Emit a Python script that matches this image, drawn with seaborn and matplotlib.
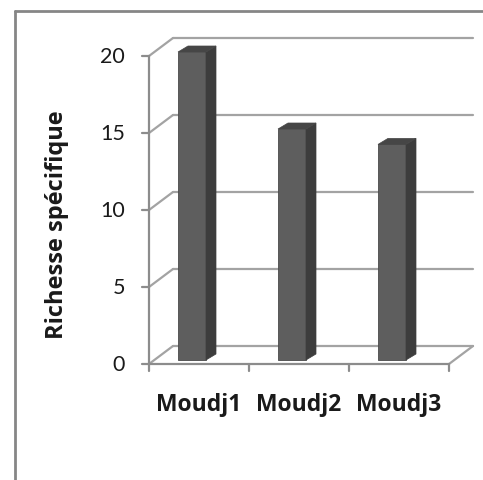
import matplotlib
matplotlib.use('Agg')
import matplotlib.pyplot as plt
import matplotlib.transforms as mtransforms
from matplotlib.patches import Polygon
import seaborn as sns

# data
categories = ['Moudj1', 'Moudj2', 'Moudj3']
richesse = [20, 15, 14]
y_ticks = [0, 5, 10, 15, 20]

sns.set_style('white')
plt.rcParams['font.family'] = ['Lato', 'DejaVu Sans']

W, H = 483, 481
fig = plt.figure(figsize=(W / 100, H / 100), dpi=100)
# front plane of the 3d box: x 149..449 px, y 365 (0) .. 57 (20) px
ax = fig.add_axes([149 / W, (H - 365) / H, 300 / W, 308 / H])
ax.set_xlim(-0.5, 2.5)
ax.set_ylim(0, 20)
ax.axis('off')

def shift(dx, dy):
    # offset in image pixels (dy positive = down)
    return ax.transData + mtransforms.ScaledTranslation(dx / 100, -dy / 100, fig.dpi_scale_trans)

ident = mtransforms.IdentityTransform()
grid_col = '#a3a3a3'
axis_col = '#8c8c8c'
back = shift(24, -18)

# back wall gridlines + left side diagonals
for v in y_ticks:
    ax.plot([-0.5, 2.5], [v, v], color=grid_col, lw=1.6, transform=back, clip_on=False)
    p0 = ax.transData.transform((-0.5, v))
    p1 = back.transform((-0.5, v))
    ax.plot([p0[0], p1[0]], [p0[1], p1[1]], color=grid_col, lw=1.6,
            transform=ident, clip_on=False)

# floor right edge
p0 = ax.transData.transform((2.5, 0))
p1 = back.transform((2.5, 0))
ax.plot([p0[0], p1[0]], [p0[1], p1[1]], color=grid_col, lw=1.6,
        transform=ident, clip_on=False)

# front axes
ax.plot([-0.5, -0.5], [0, 20], color=axis_col, lw=1.6, clip_on=False)
ax.plot([-0.5, 2.5], [0, 0], color=axis_col, lw=1.6, clip_on=False)
for v in y_ticks:
    pa = ax.transData.transform((-0.5, v))
    ax.plot([pa[0] - 7, pa[0]], [pa[1], pa[1]], color=axis_col, lw=1.6,
            transform=ident, clip_on=False)
    ax.text(-0.5, v, str(v), transform=shift(-24, 0), ha='right', va='center',
            fontsize=15.5, color='#1a1a1a')
for xe in [-0.5, 0.5, 1.5, 2.5]:
    pa = ax.transData.transform((xe, 0))
    ax.plot([pa[0], pa[0]], [pa[1], pa[1] - 7], color=axis_col, lw=1.6,
            transform=ident, clip_on=False)

# bars
front_col = '#5e5e5e'
side_col = '#3d3d3d'
top_col = '#464646'
sns.barplot(x=categories, y=richesse, color=front_col, saturation=1, width=0.28,
            ax=ax, zorder=5, edgecolor='#4a4a4a', linewidth=0.6)
ax.set_xlim(-0.5, 2.5)
ax.set_ylim(0, 20)
ax.axis('off')
bar_tr = shift(-7, -4)
dx, dy = 0.10, 6 / 15.4
for p in ax.patches:
    p.set_transform(bar_tr)
    p.set_clip_on(False)
    x0, y0 = p.get_x(), p.get_y()
    x1, y1 = x0 + p.get_width(), y0 + p.get_height()
    side = Polygon([(x1, y0), (x1 + dx, y0 + dy), (x1 + dx, y1 + dy), (x1, y1)],
                   closed=True, facecolor=side_col, edgecolor=side_col, lw=0.5,
                   transform=bar_tr, clip_on=False, zorder=5)
    top = Polygon([(x0, y1), (x1, y1), (x1 + dx, y1 + dy), (x0 + dx, y1 + dy)],
                  closed=True, facecolor=top_col, edgecolor=top_col, lw=0.5,
                  transform=bar_tr, clip_on=False, zorder=5)
    ax.add_patch(side)
    ax.add_patch(top)

# category labels
for i, c in enumerate(categories):
    ax.text(i, 0, c, transform=shift(0, 40), ha='center', va='center',
            fontsize=16.5, fontweight='bold', color='#1a1a1a',
            family=['Open Sans', 'DejaVu Sans'])

# y label
fig.text(57 / W, 1 - 225 / H, 'Richesse spécifique', rotation=90, ha='center', va='center',
         fontsize=17, fontweight='bold', color='#1a1a1a',
         family=['Open Sans', 'DejaVu Sans'])

# outer chart border
fig.add_artist(plt.Line2D([15 / W, 15 / W], [0, 1 - 12 / H], color='#868686', lw=2,
                          transform=fig.transFigure))
fig.add_artist(plt.Line2D([15 / W, 1], [1 - 12 / H, 1 - 12 / H], color='#868686', lw=2,
                          transform=fig.transFigure))

fig.savefig('out.png', dpi=100, facecolor='white')
